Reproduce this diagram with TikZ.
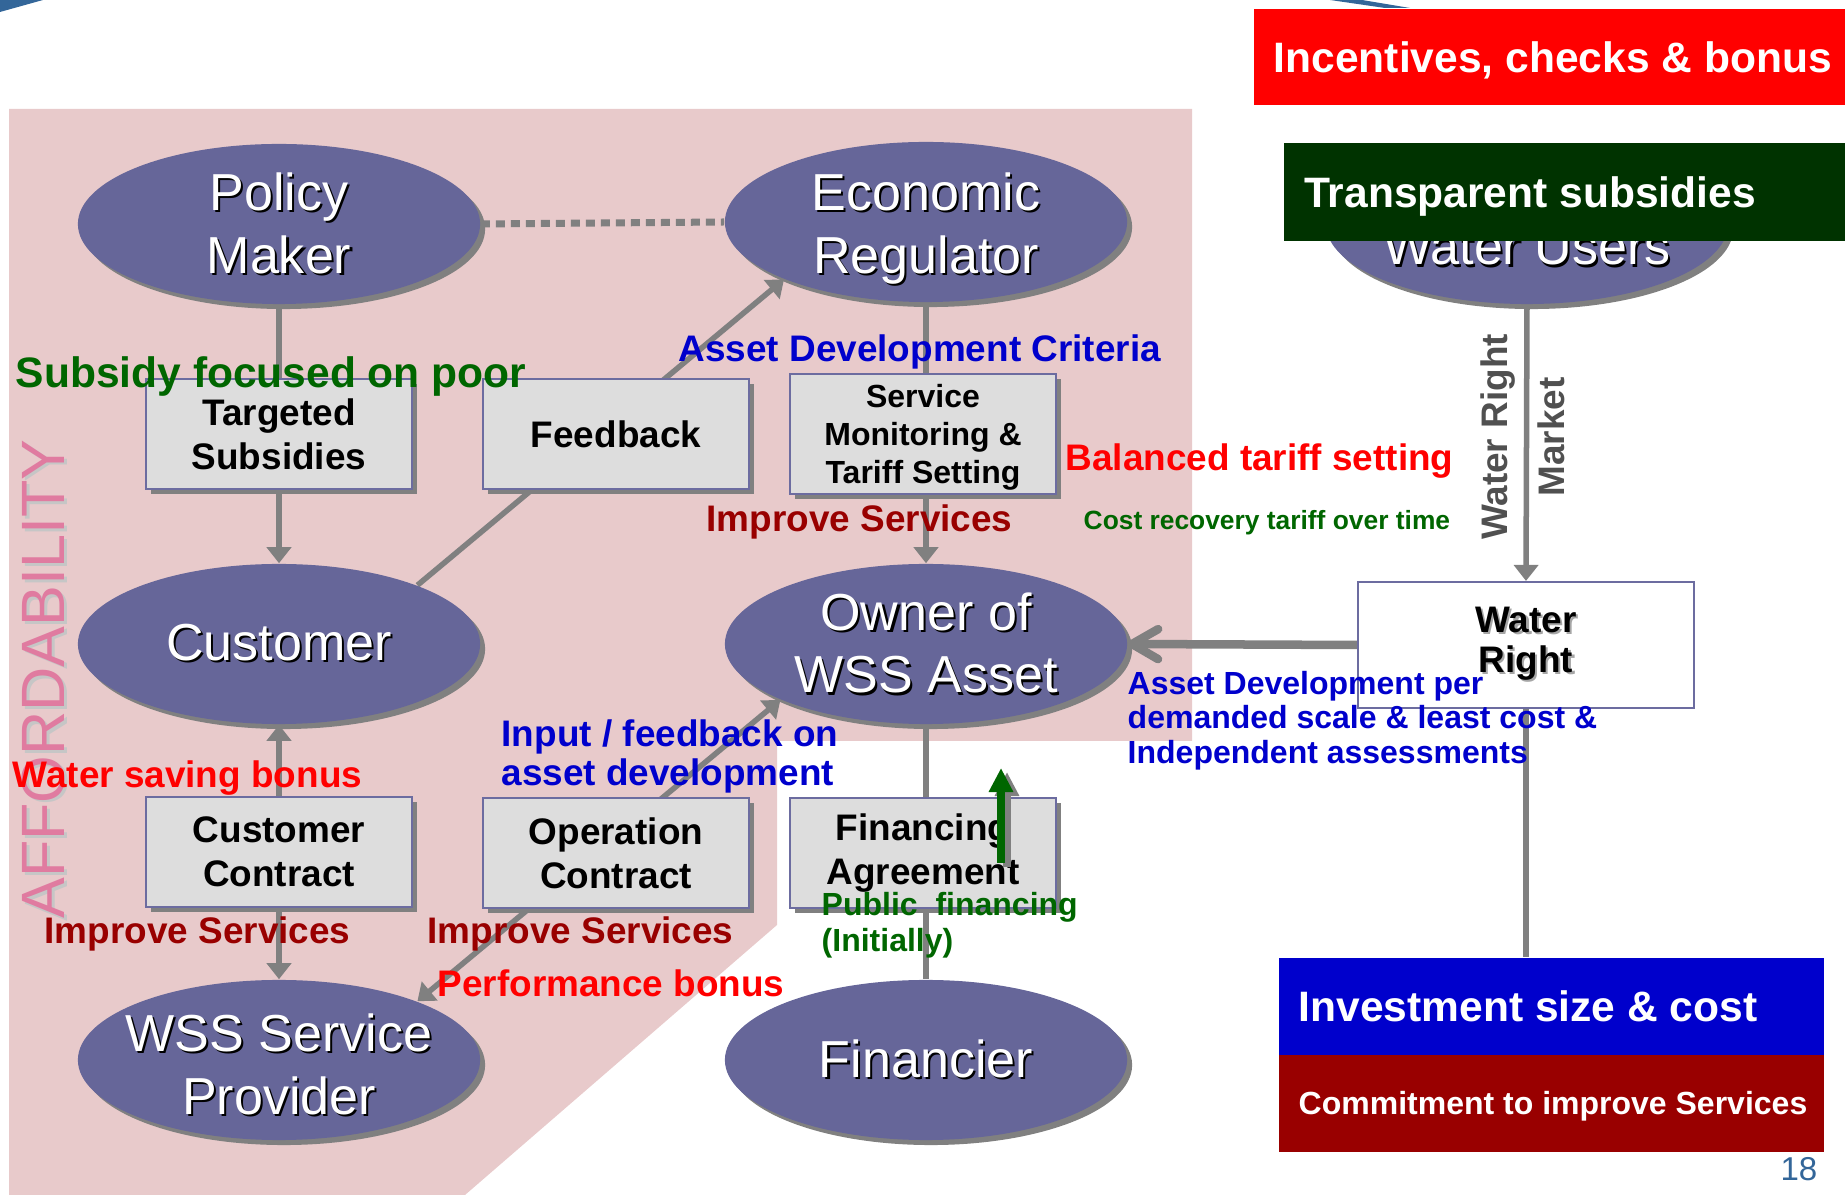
\documentclass[tikz,border=0pt]{standalone}
\usepackage{fontspec}
\setmainfont{Liberation Sans}
\usetikzlibrary{shapes.geometric,arrows.meta,shadows}
\definecolor{pinkbg}{HTML}{E8CACB}
\definecolor{ellfill}{HTML}{666699}
\definecolor{boxfill}{HTML}{DDDDDD}
\definecolor{boxline}{HTML}{6C6CA0}
\definecolor{linegray}{HTML}{808080}
\definecolor{tgreen}{HTML}{006600}
\definecolor{tblue}{HTML}{0000CC}
\definecolor{tred}{HTML}{FF0000}
\definecolor{tdred}{HTML}{990000}
\definecolor{bgreen}{HTML}{003300}
\definecolor{apink}{HTML}{E07BA0}
\definecolor{steel}{HTML}{336699}
\definecolor{dgray}{HTML}{505050}
\newcommand\wsh[1]{\makebox[0pt][l]{\hspace{0.6pt}\raisebox{-0.6pt}{\color{black}#1}}#1}
\newcommand\gsh[1]{\makebox[0pt][l]{\hspace{0.6pt}\raisebox{-0.6pt}{\color{gray!70}#1}}#1}
\newcommand\fs[2]{\fontsize{#1}{#2}\selectfont}
\pgfdeclarelayer{pinklayer}
\pgfdeclarelayer{linelayer}
\pgfsetlayers{pinklayer,linelayer,main}
\begin{document}
\begin{tikzpicture}[x=0.01cm,y=-0.01cm,
  actor/.style={ellipse, fill=ellfill, minimum width=4.02cm, minimum height=1.60cm,
    inner xsep=-0.5cm, inner ysep=-0.3cm, text=white, align=center, font=\fs{14.8}{17.9},
    drop shadow={shadow xshift=0.05cm, shadow yshift=-0.05cm, fill=linegray, opacity=1}},
  graybox/.style={rectangle, fill=boxfill, draw=boxline, line width=0.02cm,
    minimum width=2.66cm, minimum height=1.10cm, inner sep=1pt, align=center,
    font=\bfseries\fs{10.5}{12.5},
    drop shadow={shadow xshift=0.05cm, shadow yshift=-0.05cm, fill=linegray, opacity=1}},
  conn/.style={draw=linegray, line width=0.055cm},
  arrowtri/.style={-{Triangle[width=0.24cm,length=0.16cm]}},
  dualtri/.style={{Triangle[width=0.24cm,length=0.16cm]}-{Triangle[width=0.24cm,length=0.16cm]}},
  dotconn/.style={draw=linegray, line width=0.07cm, dash pattern=on 0.09cm off 0.06cm},
  lab/.style={font=\bfseries\fs{10.5}{12}, inner sep=0, anchor=base west},
  banner/.style={anchor=north west, inner xsep=0.2cm, inner ysep=0, text=white,
    text depth=0pt, font=\bfseries\fs{12.1}{14}, align=left}
]
\useasboundingbox (0,0) rectangle (1845,1195);

% background region
\begin{pgfonlayer}{pinklayer}
\fill[pinkbg] (9,109) -- (1192,109) -- (1192,741) -- (777,741) -- (777,925) -- (465,1195) -- (9,1195) -- cycle;
\end{pgfonlayer}

% slide decorations
\fill[steel] (0,0) -- (43,0) -- (0,12) -- cycle;
\fill[steel] (1330,0) -- (1362,0) -- (1410,8) -- (1385,8) -- cycle;

% affordability
\node[rotate=90, text=apink, font=\fs{17.4}{19}, inner sep=0] (aff) at (45,679)
  {\makebox[0pt][l]{\hspace{-0.8pt}\raisebox{-0.8pt}{\color{gray!45}AFFORDABILITY}}AFFORDABILITY};

% actors
\node[actor] (pm) at (279,224) {\wsh{Policy}\\\wsh{Maker}};
\node[actor] (er) at (926,222) {\rule{0pt}{14.8pt}\wsh{Economic}\\\wsh{Regulator}};
\node[actor] (wu) at (1527,224) {};
\node[text=white, font=\fs{14.8}{17.9}, anchor=base, inner sep=0] (wut) at (1527,265) {\wsh{Water Users}};
\node[actor] (cu) at (279,644) {\wsh{Customer}};
\node[actor] (ow) at (926,644) {\wsh{Owner of}\\\wsh{WSS Asset}};
\node[actor] (sp) at (279,1060) {\rule{0pt}{13.8pt}\wsh{WSS Service}\\\wsh{Provider}};
\node[actor] (fi) at (926,1060) {\wsh{Financier}};

% boxes
\node[graybox] (ts) at (279,434) {Targeted\\Subsidies};
\node[graybox] (fb) at (616,434) {Feedback};
\node[graybox, font=\bfseries\fs{9.1}{10.8}] (sm) at (923,434) {\rule{0pt}{8.5pt}Service\\Monitoring \&\\Tariff Setting};
\node[graybox] (cc) at (279,852) {Customer\\Contract};
\node[graybox] (oc) at (616,853) {Operation\\Contract};
\node[graybox] (fa) at (923,853) {Financing\\Agreement};
\node[draw=boxline, fill=white, line width=0.02cm, minimum width=3.36cm, minimum height=1.26cm,
  align=center, font=\bfseries\fs{10.5}{11.4}] (wr) at (1526,645) {\gsh{Water}\\\gsh{Right}};

% banners
\node[banner, fill=red, minimum width=5.92cm, minimum height=0.96cm] (inc) at (1253,8) {\makebox[5.52cm][l]{Incentives, checks \& bonus}};
\node[banner, fill=bgreen, minimum width=5.62cm, minimum height=0.98cm] (tr) at (1283,142) {\makebox[5.21cm][l]{Transparent subsidies}};
\node[banner, fill=tblue, minimum width=5.45cm, minimum height=0.97cm] (inv) at (1278,957) {\makebox[5.05cm][l]{Investment size \& cost}};
\node[banner, fill=tdred, minimum width=5.45cm, minimum height=0.97cm, font=\bfseries\fs{9.1}{11}] (com) at (1278,1054) {\makebox[5.05cm][l]{Commitment to improve Services}};

% connectors
\begin{pgfonlayer}{linelayer}
\draw[conn, arrowtri] (pm.south) -- (cu.north);
\draw[conn, arrowtri] (cu.23) -- (er.202);
\draw[conn, arrowtri] (er.south) -- (ow.north);
\draw[conn, dualtri] (cu.south) -- (sp.north);
\draw[conn, dualtri] (ow.201) -- (sp.23);
\draw[conn] (ow.south) -- (fi.north);
\draw[conn, arrowtri] (wu.south) -- (wr.north);
\draw[conn] (wr.south) -- (wr.south |- inv.north);
\draw[conn, line width=0.085cm, -{Straight Barb[length=0.26cm,width=0.30cm,round]}] (wr.west) -- (ow.east);
\draw[dotconn] (pm.east) -- (er.west);
\end{pgfonlayer}

% green arrow (public financing)
\coordinate (g1) at (1001,863);
\coordinate (g2) at (1001,768);
\draw[linegray, line width=0.08cm, -{Triangle[width=0.23cm,length=0.24cm]}, transform canvas={xshift=0.06cm,yshift=-0.04cm}] (g1) -- (g2);
\draw[tgreen, line width=0.08cm, -{Triangle[width=0.23cm,length=0.24cm]}] (g1) -- (g2);

% rotated labels
\node[font=\bfseries\fs{10.5}{12}, text=dgray, rotate=90, inner sep=0] (wrl) at (1498,437) {Water Right};
\node[font=\bfseries\fs{10.5}{12}, text=dgray, rotate=90, inner sep=0] (mk) at (1551,437) {Market};

% labels
\node[lab, text=tgreen, font=\bfseries\fs{12.1}{14}] (l1) at (15,388) {Subsidy focused on poor};
\node[lab, text=tblue] (l2) at (678,362) {Asset Development Criteria};
\node[lab, text=tred] (l3) at (1065,471) {Balanced tariff setting};
\node[lab, text=tgreen, font=\bfseries\fs{7.5}{9}] (l4) at (1083,530) {Cost recovery tariff over time};
\node[lab, text=tdred] (l5) at (706,532) {Improve Services};
\node[lab, text=tdred] (l6) at (44,944) {Improve Services};
\node[lab, text=tdred] (l7) at (427,944) {Improve Services};
\node[lab, text=tred] (l8) at (12,788) {Water saving bonus};
\node[lab, text=tred] (l9) at (437,997) {Performance bonus};
\node[lab, text=tblue, anchor=north west, align=left, font=\bfseries\fs{10.5}{11.1}] (l10) at (501,719) {Input / feedback on\\asset development};
\node[lab, text=tgreen, anchor=north west, align=left, font=\bfseries\fs{9.1}{10.2}] (l11) at (821,892) {Public\ \ financing\\(Initially)};
\node[lab, text=tblue, anchor=north west, align=left, font=\bfseries\fs{9.1}{9.7}] (l12) at (1127,671) {Asset Development per\\demanded scale \& least cost \&\\Independent assessments};

% page number
\node[text=steel, font=\fs{9.4}{11}, anchor=base east, inner sep=0] (pg) at (1818,1180) {18};
\end{tikzpicture}
\end{document}
